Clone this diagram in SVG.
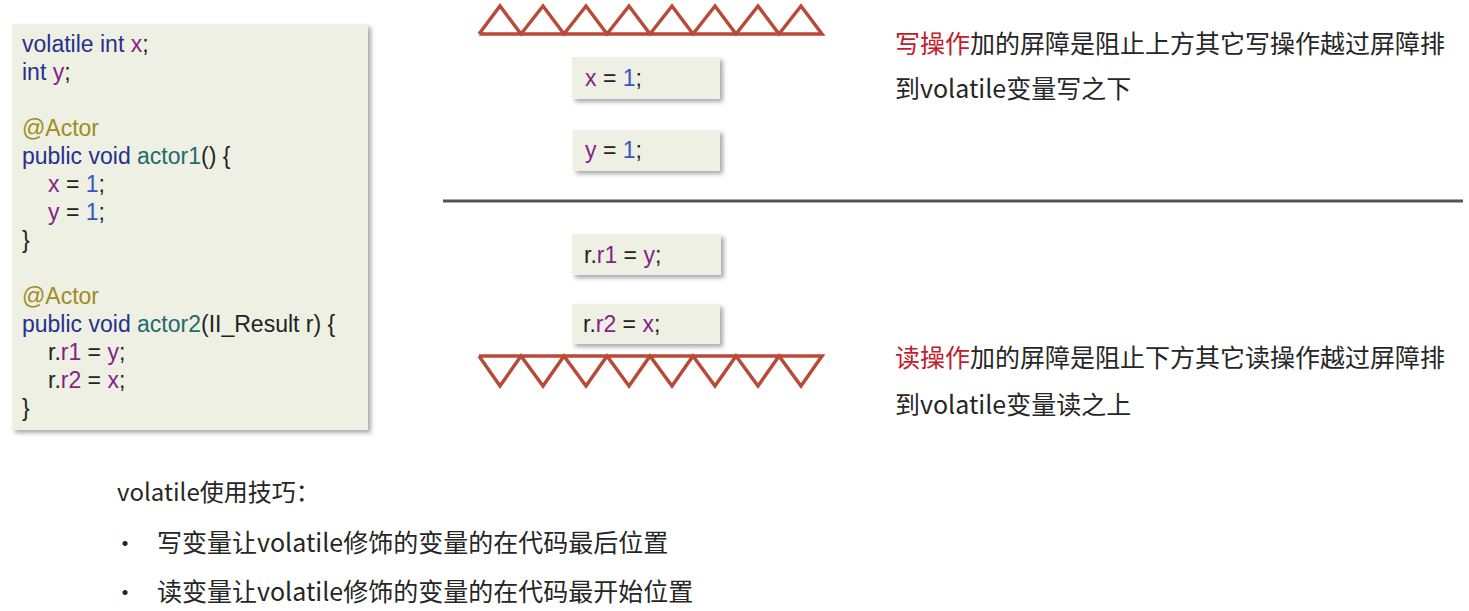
<svg xmlns="http://www.w3.org/2000/svg" width="1469" height="611" viewBox="0 0 1469 611">
<defs>
<filter id="sh" x="-10%" y="-10%" width="130%" height="130%">
<feDropShadow dx="3" dy="3" stdDeviation="2" flood-color="#888" flood-opacity="0.7"/>
</filter>
<style>
.code{font-family:"Liberation Sans",Arial,sans-serif;font-size:23px;fill:#222}
.kw{fill:#27318b}
.v{fill:#861f86}
.n{fill:#3556c8}
.an{fill:#a08c22}
.fn{fill:#1f6b6b}
.box{fill:#eef0e4;filter:url(#sh)}
.zz{fill:none;stroke:#b84a38;stroke-width:3.5;stroke-linejoin:miter}
.cn{font-family:"Noto Sans CJK SC","Noto Sans",sans-serif;font-size:24px;fill:#262626}
.note{font-size:25px}
.red{fill:#c0202a}
</style>
</defs>
<rect width="1469" height="611" fill="#fff"/>

<g id="code-block">
<rect class="box" x="12" y="24" width="356" height="406"/>
<text class="code" x="22" y="52"><tspan class="kw">volatile int </tspan><tspan class="v">x</tspan>;</text>
<text class="code" x="22" y="80"><tspan class="kw">int </tspan><tspan class="v">y</tspan>;</text>
<text class="code an" x="22" y="136">@Actor</text>
<text class="code" x="22" y="164"><tspan class="kw">public void </tspan><tspan class="fn">actor1</tspan>() {</text>
<text class="code" x="48" y="192"><tspan class="v">x</tspan> = <tspan class="n">1</tspan>;</text>
<text class="code" x="48" y="220"><tspan class="v">y</tspan> = <tspan class="n">1</tspan>;</text>
<text class="code" x="22" y="248">}</text>
<text class="code an" x="22" y="304">@Actor</text>
<text class="code" x="22" y="332"><tspan class="kw">public void </tspan><tspan class="fn">actor2</tspan>(II_Result r) {</text>
<text class="code" x="48" y="360">r.<tspan class="v">r1</tspan> = <tspan class="v">y</tspan>;</text>
<text class="code" x="48" y="388">r.<tspan class="v">r2</tspan> = <tspan class="v">x</tspan>;</text>
<text class="code" x="22" y="416">}</text>
</g>

<g id="write-barrier">
<polyline class="zz" points="479,34 500,6 521,34 543,6 564,34 586,6 607,34 629,6 650,34 672,6 693,34 715,6 736,34 758,6 779,34 801,6 822,34 479,34"/>
</g>

<g id="stmt-x">
<rect class="box" x="572" y="57" width="148" height="42"/>
<text class="code" x="585" y="86"><tspan class="v">x</tspan> = <tspan class="n">1</tspan>;</text>
</g>
<g id="stmt-y">
<rect class="box" x="573" y="130" width="147" height="41"/>
<text class="code" x="585" y="158"><tspan class="v">y</tspan> = <tspan class="n">1</tspan>;</text>
</g>

<g id="divider">
<line x1="443" y1="201" x2="1463" y2="201" stroke="#555" stroke-width="3"/>
</g>

<g id="stmt-r1">
<rect class="box" x="572" y="234" width="149" height="41"/>
<text class="code" x="584" y="263">r.<tspan class="v">r1</tspan> = <tspan class="v">y</tspan>;</text>
</g>
<g id="stmt-r2">
<rect class="box" x="572" y="304" width="148" height="40"/>
<text class="code" x="583" y="332">r.<tspan class="v">r2</tspan> = <tspan class="v">x</tspan>;</text>
</g>

<g id="read-barrier">
<polyline class="zz" points="479,356 500,386 521,356 543,386 564,356 586,386 607,356 629,386 650,356 672,386 693,356 715,386 736,356 758,386 779,356 801,386 822,356 479,356"/>
</g>

<g id="write-note">
<text class="cn note" x="895" y="53"><tspan class="red">写操作</tspan>加的屏障是阻止上方其它写操作越过屏障排</text>
<text class="cn note" x="895" y="98">到volatile变量写之下</text>
</g>
<g id="read-note">
<text class="cn note" x="895" y="367"><tspan class="red">读操作</tspan>加的屏障是阻止下方其它读操作越过屏障排</text>
<text class="cn note" x="895" y="414">到volatile变量读之上</text>
</g>

<g id="tips">
<text class="cn" x="117" y="501">volatile使用技巧：</text>
<text class="cn" x="113" y="552">•</text>
<text class="cn" x="157" y="552" style="font-size:25px">写变量让volatile修饰的变量的在代码最后位置</text>
<text class="cn" x="113" y="601">•</text>
<text class="cn" x="157" y="601" style="font-size:25px">读变量让volatile修饰的变量的在代码最开始位置</text>
</g>
</svg>
